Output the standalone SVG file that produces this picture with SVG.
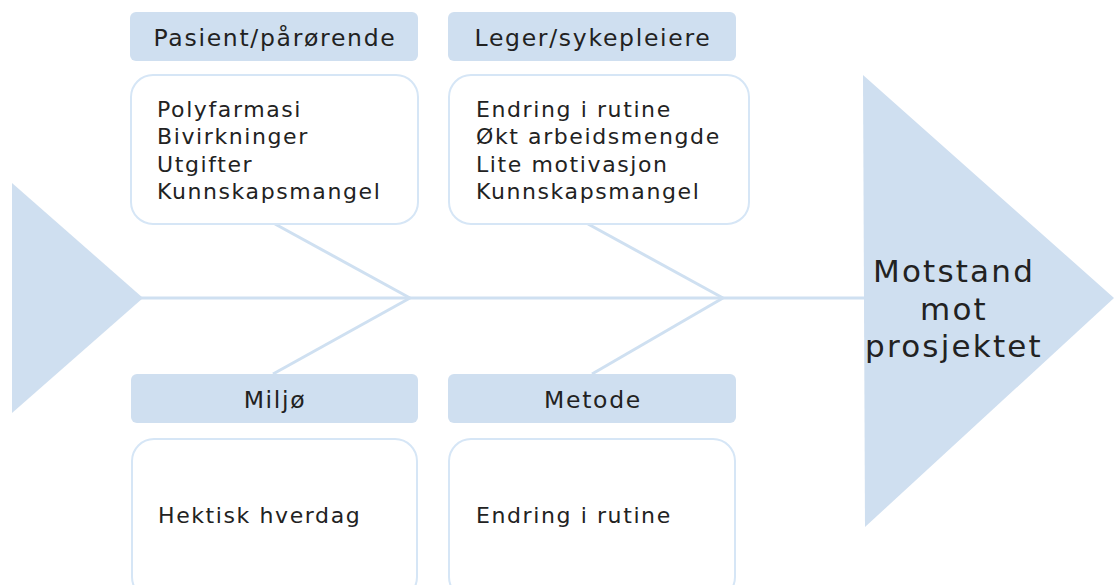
<svg xmlns="http://www.w3.org/2000/svg" width="1114" height="585" viewBox="0 0 1114 585">
<style>
.hdr{fill:#cfdff0;}
.box{fill:#fff;stroke:#d6e6f6;stroke-width:2;}
.bone{stroke:#cfe0f1;stroke-width:3;fill:none;}
.t{font-family:"DejaVu Sans",sans-serif;font-size:22px;letter-spacing:1.6px;fill:#222;}
.h{font-family:"DejaVu Sans",sans-serif;font-size:23.5px;letter-spacing:1.7px;fill:#222;text-anchor:middle;}
.big{font-family:"DejaVu Sans",sans-serif;font-size:31px;letter-spacing:2.2px;fill:#222;text-anchor:middle;}
</style>
<rect width="1114" height="585" fill="#fff"/>
<g id="connectors">
<line class="bone" x1="140" y1="298" x2="866" y2="298"/>
<line class="bone" x1="275" y1="224" x2="410" y2="298"/>
<line class="bone" x1="588" y1="224" x2="723" y2="298"/>
<line class="bone" x1="410" y1="298" x2="273" y2="374"/>
<line class="bone" x1="723" y1="298" x2="592" y2="374"/>
</g>
<g id="tail"><polygon class="hdr" points="12,183 143,298 12,413"/></g>
<g id="head">
<polygon class="hdr" points="863,75 1114,298 865,527"/>
<text class="big" x="954" y="282">Motstand</text>
<text class="big" x="954" y="320">mot</text>
<text class="big" x="954" y="357">prosjektet</text>
</g>
<g id="pasient">
<rect class="hdr" x="130" y="12" width="288" height="49" rx="6"/>
<text class="h" x="275" y="46">Pasient/pårørende</text>
<rect class="box" x="131" y="75" width="287" height="149" rx="22"/>
<text class="t" x="157" y="117">Polyfarmasi</text>
<text class="t" x="157" y="144">Bivirkninger</text>
<text class="t" x="157" y="172">Utgifter</text>
<text class="t" x="157" y="199">Kunnskapsmangel</text>
</g>
<g id="leger">
<rect class="hdr" x="448" y="12" width="288" height="49" rx="6"/>
<text class="h" x="593" y="46">Leger/sykepleiere</text>
<rect class="box" x="449" y="75" width="300" height="149" rx="22"/>
<text class="t" x="476" y="117">Endring i rutine</text>
<text class="t" x="476" y="144">Økt arbeidsmengde</text>
<text class="t" x="476" y="172">Lite motivasjon</text>
<text class="t" x="476" y="199">Kunnskapsmangel</text>
</g>
<g id="miljo">
<rect class="hdr" x="131" y="374" width="287" height="49" rx="6"/>
<text class="h" x="275" y="408">Miljø</text>
<rect class="box" x="132" y="439" width="285" height="160" rx="22"/>
<text class="t" x="158" y="523">Hektisk hverdag</text>
</g>
<g id="metode">
<rect class="hdr" x="448" y="374" width="288" height="49" rx="6"/>
<text class="h" x="593" y="408">Metode</text>
<rect class="box" x="449" y="439" width="286" height="160" rx="22"/>
<text class="t" x="476" y="523">Endring i rutine</text>
</g>
</svg>
